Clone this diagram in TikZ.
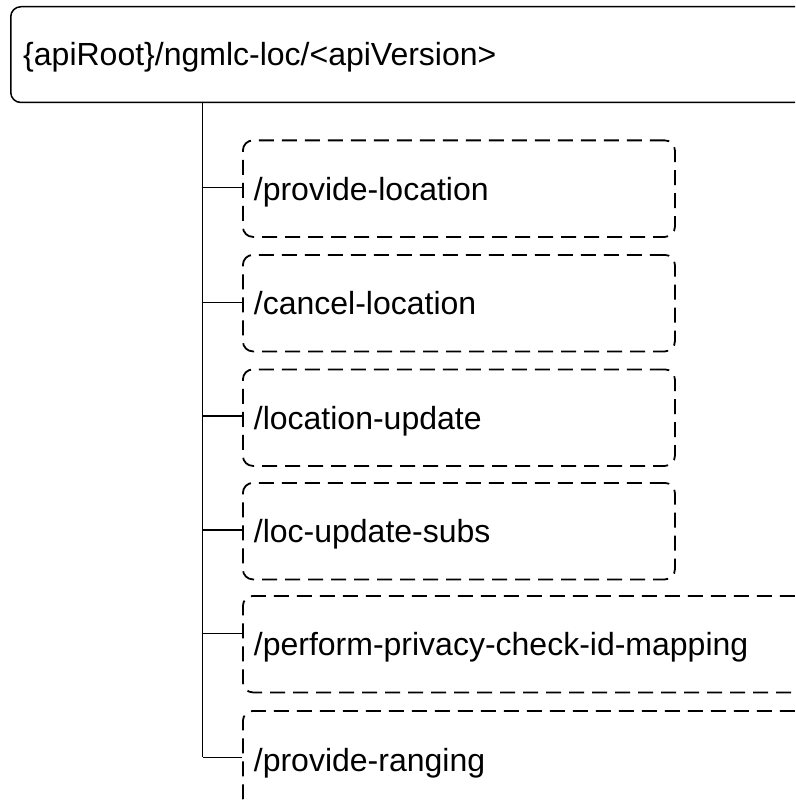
\documentclass[tikz,border=0pt]{standalone}
\usepackage{fontspec}
\setmainfont{Liberation Sans}
\begin{document}
\begin{tikzpicture}[x=1pt,y=-1pt]
\tikzset{
  lbl/.style={font=\fontsize{32}{36}\selectfont, text height=22.8pt, text depth=0pt, align=left, inner ysep=0pt, anchor=north west},
  rootbox/.style={lbl, draw, line width=1.5pt, rounded corners=10pt, inner xsep=12.5pt, minimum height=95.7pt},
  resbox/.style={lbl, draw, dash pattern=on 15pt off 8pt, line width=1.8pt, rounded corners=10pt, inner xsep=11pt, minimum height=96.5pt},
  conn/.style={line width=1.4pt},
  trunkline/.style={line width=1.8pt},
}
\useasboundingbox (0,0) rectangle (795,805);
\clip (0,0) rectangle (795,805);
\node[rootbox, text width=965pt] (root) at (10,6) {\{apiRoot\}/ngmlc-loc/<apiVersion>};
\node[resbox, text width=410pt] (b1) at (242,139.5) {/provide-location};
\node[resbox, text width=410pt] (b2) at (242,254) {/cancel-location};
\node[resbox, text width=410pt] (b3) at (242,368.5) {/location-update};
\node[resbox, text width=410pt] (b4) at (242,482) {/loc-update-subs};
\node[resbox, text width=678pt] (b5) at (242,595) {/perform-privacy-check-id-mapping};
\node[resbox, text width=678pt, minimum height=98pt] (b6) at (242,710) {/provide-ranging};
\coordinate (j1) at (202.5,187.7);
\coordinate (j2) at (202.5,302.3);
\coordinate (j3) at (202.5,416);
\coordinate (j4) at (202.5,530);
\coordinate (j5) at (202.5,633.3);
\coordinate (j6) at (202.5,757.3);
\draw[trunkline] (root.south -| j1) -- (j6);
\draw[conn] (j1) -- (j1 -| b1.west);
\draw[conn] (j2) -- (j2 -| b2.west);
\draw[conn] (j3) -- (j3 -| b3.west);
\draw[conn] (j4) -- (j4 -| b4.west);
\draw[conn] (j5) -- (j5 -| b5.west);
\draw[conn] (j6) -- (j6 -| b6.west);
\end{tikzpicture}
\end{document}
